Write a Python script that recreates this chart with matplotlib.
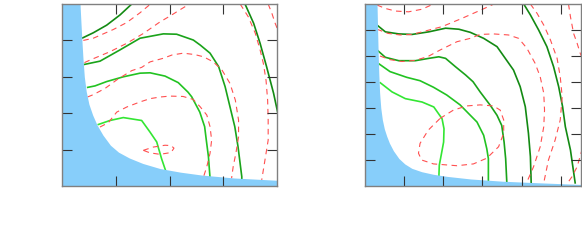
import numpy as np
import matplotlib
matplotlib.use("Agg")
import matplotlib.pyplot as plt

# ---- left panel (x 0..4, y 0..5) ----
left_wall = [(0.335, 5.0), (0.352, 4.5), (0.37, 4.0), (0.39, 3.5), (0.415, 3.0),
             (0.45, 2.6), (0.50, 2.25), (0.57, 1.95), (0.65, 1.68), (0.76, 1.40),
             (0.90, 1.12), (1.05, 0.93), (1.25, 0.77), (1.50, 0.62), (1.82, 0.48),
             (2.2, 0.38), (2.6, 0.30), (3.2, 0.22), (4.0, 0.157)]

left_g1 = [(0.385, 4.07), (0.582, 4.21), (0.831, 4.42), (1.078, 4.70), (1.296, 5.0)]
left_g2 = [(0.415, 3.34), (0.706, 3.43), (1.078, 3.74), (1.45, 4.06), (1.883, 4.18),
           (2.13, 4.17), (2.44, 4.01), (2.57, 3.87), (2.75, 3.65), (2.91, 3.28),
           (3.03, 2.73), (3.12, 2.18), (3.21, 1.63), (3.27, 1.08), (3.34, 0.255), (3.34, 0.11)]
left_g3 = [(0.478, 2.71), (0.613, 2.75), (0.831, 2.87), (1.139, 3.00), (1.45, 3.10),
           (1.636, 3.11), (1.914, 3.02), (2.16, 2.84), (2.34, 2.58), (2.41, 2.45),
           (2.56, 2.03), (2.65, 1.63), (2.68, 1.27), (2.72, 0.81), (2.75, 0.22)]
left_g4 = [(0.675, 1.69), (0.892, 1.80), (1.139, 1.88), (1.48, 1.80), (1.636, 1.48),
           (1.76, 1.21), (1.85, 0.75), (1.93, 0.40)]
left_g5 = [(3.40, 5.0), (3.56, 4.47), (3.68, 3.92), (3.80, 3.28), (3.93, 2.55), (4.01, 2.0)]

left_r1 = [(0.396, 4.00), (0.582, 4.06), (0.954, 4.30), (1.202, 4.49), (1.45, 4.76),
           (1.604, 4.95), (1.654, 5.02)]
left_r2 = [(0.418, 3.39), (0.52, 3.46), (0.892, 3.69), (1.202, 3.92), (1.511, 4.19),
           (1.822, 4.51), (2.007, 4.67), (2.19, 4.84), (2.40, 5.03)]
left_r3 = [(0.474, 2.445), (0.582, 2.51), (0.799, 2.68), (1.041, 2.94), (1.296, 3.17),
           (1.481, 3.26), (1.636, 3.41), (1.883, 3.51), (2.045, 3.60), (2.255, 3.65),
           (2.47, 3.61), (2.63, 3.55), (2.81, 3.41), (2.97, 3.19), (3.12, 2.82),
           (3.22, 2.36), (3.28, 1.81), (3.28, 1.35), (3.23, 0.90), (3.18, 0.53), (3.15, 0.21)]
left_r4 = [(0.706, 1.62), (0.861, 1.74), (1.017, 2.03), (1.203, 2.17), (1.45, 2.31),
           (1.636, 2.40), (1.822, 2.445), (2.007, 2.47), (2.25, 2.46), (2.435, 2.38),
           (2.565, 2.18), (2.69, 1.95), (2.75, 1.63), (2.78, 1.26), (2.75, 0.90),
           (2.69, 0.53), (2.63, 0.255)]
left_r5 = [(1.511, 0.98), (1.697, 1.07), (1.914, 1.12), (2.026, 1.11), (2.08, 1.04),
           (2.026, 0.92), (1.822, 0.87), (1.636, 0.91), (1.511, 0.98)]
left_r6 = [(3.31, 5.0), (3.46, 4.65), (3.59, 4.20), (3.68, 3.74), (3.74, 3.37),
           (3.79, 2.91), (3.82, 2.36), (3.83, 1.81), (3.83, 1.26), (3.77, 0.71), (3.71, 0.165)]
left_r7 = [(3.83, 5.0), (3.90, 4.74), (3.96, 4.47), (4.02, 4.25)]

# ---- right panel (x 0..5.5, y 0..7) ----
right_wall = [(0.314, 7.0), (0.329, 6.0), (0.345, 5.0), (0.36, 4.3), (0.38, 3.6),
              (0.41, 3.0), (0.45, 2.55), (0.50, 2.2), (0.56, 1.92), (0.63, 1.65),
              (0.73, 1.36), (0.87, 1.06), (1.02, 0.85), (1.2, 0.68), (1.45, 0.55),
              (1.75, 0.45), (2.1, 0.37), (2.7, 0.27), (3.5, 0.185), (4.4, 0.125), (5.5, 0.06)]

right_g1 = [(0.314, 6.19), (0.526, 5.93), (0.867, 5.85), (1.207, 5.83), (1.633, 5.93),
            (2.06, 6.07), (2.40, 6.03), (2.69, 5.91), (3.03, 5.68), (3.37, 5.36),
            (3.58, 4.91), (3.79, 4.46), (3.96, 3.82), (4.09, 3.05), (4.17, 2.03),
            (4.22, 1.13), (4.24, 0.12)]
right_g2 = [(0.339, 5.2), (0.526, 4.95), (0.867, 4.82), (1.29, 4.82), (1.633, 4.91),
            (1.888, 4.97), (2.06, 4.91), (2.31, 4.59), (2.57, 4.27), (2.76, 4.01),
            (2.94, 3.62), (3.20, 3.10), (3.37, 2.72), (3.49, 2.33), (3.55, 1.69),
            (3.59, 1.05), (3.62, 0.12)]
right_g3 = [(0.372, 4.69), (0.645, 4.40), (1.071, 4.18), (1.41, 4.05), (1.75, 3.80),
            (2.09, 3.50), (2.43, 3.12), (2.69, 2.72), (2.86, 2.46), (3.03, 1.95),
            (3.11, 1.43), (3.15, 1.05), (3.15, 0.15)]
right_g4 = [(0.398, 3.97), (0.696, 3.62), (1.036, 3.36), (1.462, 3.23), (1.76, 3.04),
            (1.97, 2.59), (2.02, 2.2), (2.01, 1.69), (1.95, 1.2), (1.90, 0.8), (1.89, 0.38)]
right_g5 = [(4.05, 7.0), (4.22, 6.58), (4.43, 6.0), (4.64, 5.36), (4.81, 4.59),
            (4.94, 3.82), (5.04, 3.05), (5.11, 2.28), (5.24, 1.385), (5.36, 0.12)]

right_r1 = [(0.314, 6.96), (0.526, 6.83), (0.78, 6.73), (1.12, 6.70), (1.46, 6.80), (1.78, 7.02)]
right_r2 = [(0.314, 6.03), (0.594, 5.87), (0.90, 5.81), (1.207, 5.83), (1.54, 5.96),
            (1.97, 6.13), (2.48, 6.45), (2.99, 6.79), (3.32, 7.02)]
right_r3 = [(0.39, 5.0), (0.645, 4.86), (0.95, 4.79), (1.28, 4.83), (1.61, 4.98),
            (1.92, 5.23), (2.35, 5.55), (2.69, 5.68), (2.94, 5.83), (3.28, 5.85),
            (3.66, 5.81), (3.92, 5.68), (4.13, 5.30), (4.34, 4.72), (4.47, 4.20),
            (4.56, 3.57), (4.58, 2.92), (4.56, 2.28), (4.47, 1.51), (4.30, 0.74), (4.13, 0.15)]
right_r4 = [(1.92, 2.60), (2.26, 2.92), (2.60, 3.08), (2.94, 3.12), (3.28, 3.08),
            (3.45, 2.92), (3.54, 2.54), (3.54, 2.03), (3.41, 1.51), (3.11, 1.07),
            (2.77, 0.85), (2.35, 0.78), (1.75, 0.85), (1.45, 1.0), (1.37, 1.26),
            (1.41, 1.64), (1.62, 2.15), (1.92, 2.60)]
right_r5 = [(4.22, 7.0), (4.39, 6.64), (4.56, 6.19), (4.73, 5.62), (4.90, 4.91),
            (4.98, 4.20), (5.03, 3.43), (4.98, 2.54), (4.85, 1.77), (4.68, 1.0), (4.56, 0.12)]
right_r6 = [(5.19, 7.0), (5.24, 6.51), (5.32, 5.87), (5.41, 5.49), (5.49, 5.10), (5.54, 4.92)]
right_r7 = [(5.57, 1.46), (5.52, 1.32), (5.41, 0.74), (5.28, 0.36), (5.15, 0.08)]

dark = '#138a13'
mid = '#1aa31a'
bright = '#22c322'
light = '#33e633'
red = '#ff5050'
blue = '#87cefa'


def draw(ax, pts, color, dashed=False):
    xs, ys = np.array(pts).T
    if dashed:
        ax.plot(xs, ys, color=color, lw=0.8, ls=(0, (5, 4)), zorder=2)
    else:
        ax.plot(xs, ys, color=color, lw=1.2, zorder=2)


def wall(ax, pts, ytop):
    xs, ys = np.array(pts).T
    xs = np.r_[0, xs]
    ys = np.r_[ytop, ys]
    ax.fill_between(xs, 0, ys, color=blue, lw=0, zorder=2.2)


def style(ax, xmax, ymax):
    ax.set_xlim(0, xmax)
    ax.set_ylim(0, ymax)
    ax.set_xticks(np.arange(1, np.ceil(xmax)))
    ax.set_yticks(np.arange(1, ymax))
    ax.set_axisbelow(False)
    ax.tick_params(direction='in', length=7, width=0.8, color='#333333',
                   top=True, right=True, labelbottom=False, labelleft=False)
    for s in ax.spines.values():
        s.set_color('#808080')
        s.set_linewidth(1.0)
        s.set_zorder(5)


fig = plt.figure(figsize=(5.82, 2.42), dpi=100)
ax1 = fig.add_axes([0.1065, 0.2314, 0.37, 0.752])
ax2 = fig.add_axes([0.6266, 0.2314, 0.3711, 0.752])

for p, c in [(left_g1, dark), (left_g2, mid), (left_g3, bright), (left_g4, light), (left_g5, dark)]:
    draw(ax1, p, c)
for p in [left_r1, left_r2, left_r3, left_r4, left_r5, left_r6, left_r7]:
    draw(ax1, p, red, dashed=True)
wall(ax1, left_wall, 5)
style(ax1, 4, 5)

for p, c in [(right_g1, dark), (right_g2, mid), (right_g3, bright), (right_g4, light), (right_g5, dark)]:
    draw(ax2, p, c)
for p in [right_r1, right_r2, right_r3, right_r4, right_r5, right_r6, right_r7]:
    draw(ax2, p, red, dashed=True)
wall(ax2, right_wall, 7)
style(ax2, 5.5, 7)

fig.savefig('out.png', dpi=100)
